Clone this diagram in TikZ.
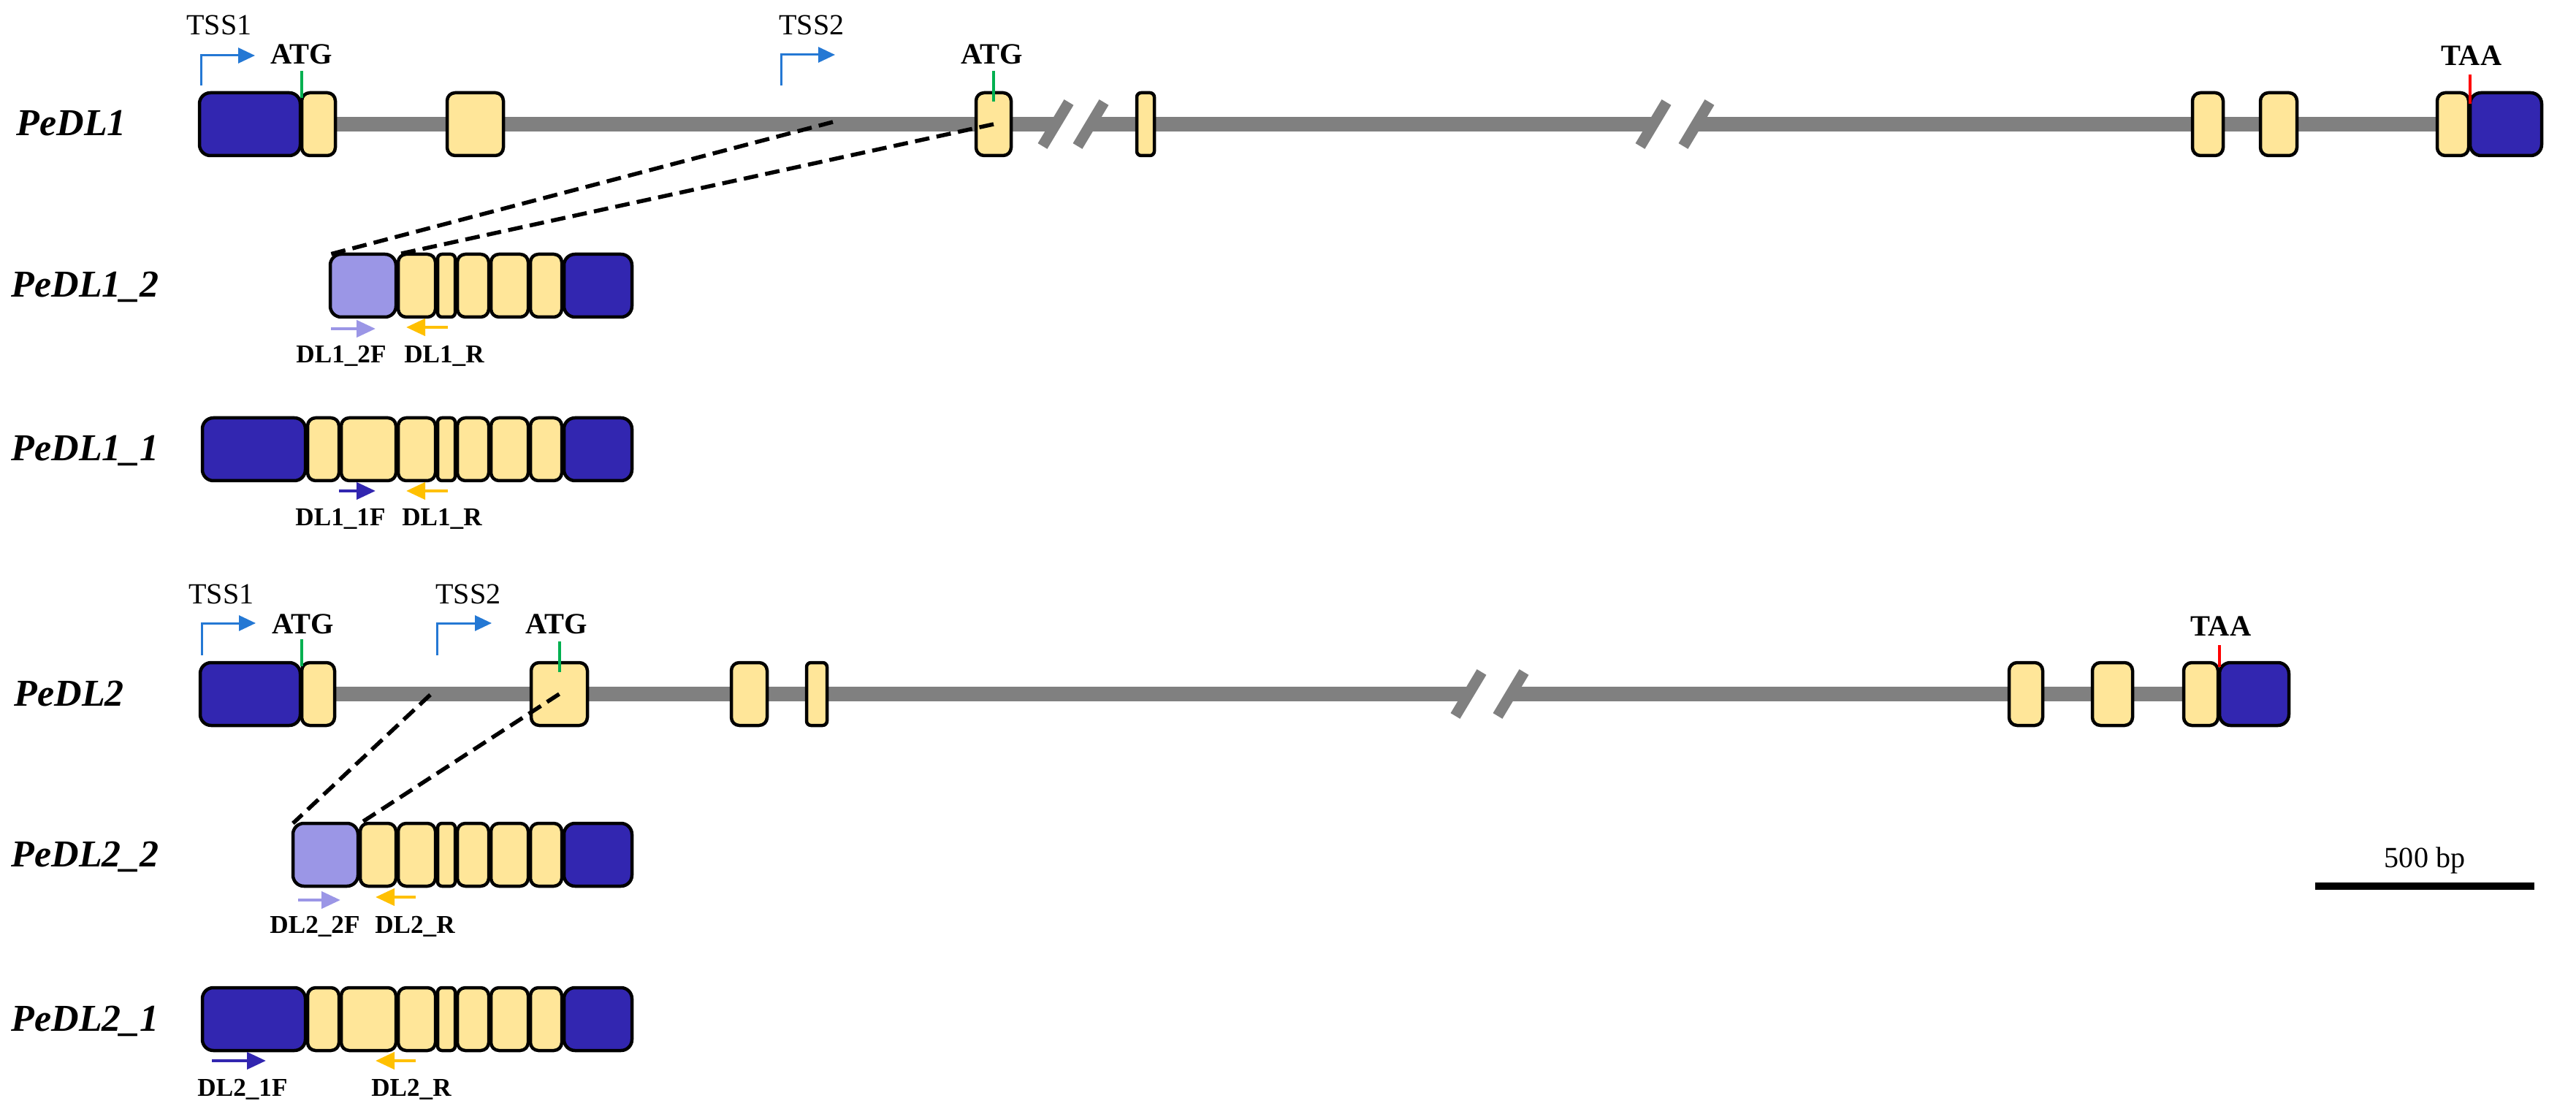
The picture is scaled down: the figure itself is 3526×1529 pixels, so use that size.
\documentclass[tikz,border=0pt]{standalone}
\usepackage{fontspec}
\setmainfont{Liberation Serif}
\usetikzlibrary{arrows.meta,positioning,calc,backgrounds}
\definecolor{Utr}{HTML}{3226B0}
\definecolor{Cds}{HTML}{FFE699}
\definecolor{Alt}{HTML}{9B96E6}
\definecolor{Intr}{HTML}{808080}
\definecolor{Tss}{HTML}{2478D4}
\definecolor{Start}{HTML}{00B050}
\definecolor{Stop}{HTML}{FF0000}
\definecolor{Rev}{HTML}{FFC000}
\tikzset{exon/.style={draw=black,line width=.45mm,rounded corners=1.1mm,minimum height=8.6mm,inner sep=0pt,outer sep=0pt},utr/.style={exon,fill=Utr,rounded corners=1.5mm},cds/.style={exon,fill=Cds},thin/.style={rounded corners=.6mm},altutr/.style={exon,fill=Alt,rounded corners=1.5mm},intron/.style={draw=Intr,line width=2mm},brk/.style={draw=Intr,line width=1.5mm},tss/.style={draw=Tss,line width=.3mm,-{Triangle[length=2.3mm,width=2.1mm]}},zoomline/.style={draw=black,line width=.55mm,dash pattern=on 2mm off 1mm},primer/.style={line width=.45mm,-{Triangle[length=2.6mm,width=2.3mm]}},gname/.style={font=\fontsize{14.8}{16}\selectfont\bfseries\itshape,anchor=base west,inner sep=0pt},tsslab/.style={font=\fontsize{11.4}{13}\selectfont,anchor=base,inner sep=0pt},codon/.style={font=\fontsize{11.5}{13}\selectfont\bfseries,anchor=base,inner sep=0pt},plab/.style={font=\fontsize{10}{12}\selectfont\bfseries,anchor=base,inner sep=0pt},codontick/.style={line width=.4mm}}

\begin{document}
\begin{tikzpicture}[x=0.1mm,y=-0.1mm]
\useasboundingbox (0,0) rectangle (3526,1529);
% PeDL1 gene
\node[gname] (n1) at (22,186) {PeDL1};
\node[utr,minimum width=13.8mm,anchor=west] (b1L) at (273,170) {};
\node[cds,minimum width=4.6mm,right=.2mm of b1L] (e1) {};
\node[cds,minimum width=7.7mm,anchor=west] (e2) at (612,170) {};
\node[cds,minimum width=4.8mm,anchor=west] (e3) at (1336,170) {};
\node[cds,thin,minimum width=2.4mm,anchor=west] (e4) at (1556,170) {};
\node[cds,minimum width=4.2mm,anchor=west] (e5) at (3001,170) {};
\node[cds,minimum width=5.0mm,anchor=west] (e6) at (3094,170) {};
\node[cds,minimum width=4.3mm,anchor=west] (e7) at (3336,170) {};
\node[utr,minimum width=9.8mm,right=.2mm of e7] (b1R) {};
\coordinate (k1a) at (1445,170);\coordinate (k1b) at (1493,170);
\coordinate (k2a) at (2263,170);\coordinate (k2b) at (2322,170);
\node[tsslab] (t1a) at (300,48) {TSS1};
\node[tsslab] (t1b) at (1111,48) {TSS2};
\coordinate (s1a) at (275,117);\coordinate (s1b) at (1069,117);
\draw[tss] (s1a) |- ++(74,-41);
\draw[tss] (s1b) |- ++(74,-42);
\node[codon] (c1a) at (413,88) {ATG};
\node[codon] (c1b) at (1358,88) {ATG};
\node[codon] (c1c) at (3383,90) {TAA};
\draw[codontick,Start] ($(e1.north west)+(0,-30)$) -- ($(e1.north west)+(0,7)$);
\draw[codontick,Start] ($(e3.north)+(0,-30)$) -- ($(e3.north)+(0,12)$);
\draw[codontick,Stop] ($(b1R.north west)+(0,-25)$) -- ($(b1R.north west)+(0,15)$);
% PeDL1_2
\node[gname] (n12) at (15,407) {PeDL1\_2};
\node[altutr,minimum width=9.0mm,anchor=west] (a12) at (452,391) {};
\node[cds,minimum width=5.1mm,right=.3mm of a12] (y12a) {};
\node[cds,thin,minimum width=2.4mm,right=.3mm of y12a] (y12b) {};
\node[cds,minimum width=4.3mm,right=.3mm of y12b] (y12c) {};
\node[cds,minimum width=5.1mm,right=.3mm of y12c] (y12d) {};
\node[cds,minimum width=4.3mm,right=.3mm of y12d] (y12e) {};
\node[utr,minimum width=9.3mm,right=.3mm of y12e] (u12) {};
\draw[primer,Alt] (453,450) -- (514,450);
\draw[primer,Rev] (613,448) -- (556,448);
\node[plab] (p12f) at (467,497) {DL1\_2F};
\node[plab] (p12r) at (608,497) {DL1\_R};
% PeDL1_1
\node[gname] (n11) at (15,631) {PeDL1\_1};
\node[utr,minimum width=14.1mm,anchor=west] (a11) at (277,615) {};
\node[cds,minimum width=4.3mm,right=.3mm of a11] (y11a) {};
\node[cds,minimum width=7.5mm,right=.3mm of y11a] (y11b) {};
\node[cds,minimum width=5.1mm,right=.3mm of y11b] (y11c) {};
\node[cds,thin,minimum width=2.4mm,right=.3mm of y11c] (y11d) {};
\node[cds,minimum width=4.3mm,right=.3mm of y11d] (y11e) {};
\node[cds,minimum width=5.1mm,right=.3mm of y11e] (y11f) {};
\node[cds,minimum width=4.3mm,right=.3mm of y11f] (y11g) {};
\node[utr,minimum width=9.3mm,right=.3mm of y11g] (u11) {};
\draw[primer,Utr] (464,672) -- (514,672);
\draw[primer,Rev] (613,672) -- (556,672);
\node[plab] (p11f) at (466,720) {DL1\_1F};
\node[plab] (p11r) at (605,720) {DL1\_R};
% PeDL2 gene
\node[gname] (n2) at (19,966) {PeDL2};
\node[utr,minimum width=13.7mm,anchor=west] (b2L) at (274,950) {};
\node[cds,minimum width=4.5mm,right=.2mm of b2L] (f1) {};
\node[cds,minimum width=7.7mm,anchor=west] (f2) at (727,950) {};
\node[cds,minimum width=4.9mm,anchor=west] (f3) at (1001,950) {};
\node[cds,thin,minimum width=2.8mm,anchor=west] (f4) at (1104,950) {};
\node[cds,minimum width=4.6mm,anchor=west] (f5) at (2750,950) {};
\node[cds,minimum width=5.5mm,anchor=west] (f6) at (2864,950) {};
\node[cds,minimum width=4.7mm,anchor=west] (f7) at (2989,950) {};
\node[utr,minimum width=9.5mm,right=.2mm of f7] (b2R) {};
\coordinate (k3a) at (2010,950);\coordinate (k3b) at (2068,950);
\node[tsslab] (t2a) at (303,826) {TSS1};
\node[tsslab] (t2b) at (641,826) {TSS2};
\coordinate (s2a) at (276,897);\coordinate (s2b) at (598,897);
\draw[tss] (s2a) |- ++(74,-44);
\draw[tss] (s2b) |- ++(75,-44);
\node[codon] (c2a) at (415,867) {ATG};
\node[codon] (c2b) at (762,867) {ATG};
\node[codon] (c2c) at (3040,870) {TAA};
\draw[codontick,Start] ($(f1.north west)+(0,-32)$) -- ($(f1.north west)+(0,5)$);
\draw[codontick,Start] ($(f2.north)+(0,-29)$) -- ($(f2.north)+(0,13)$);
\draw[codontick,Stop] ($(b2R.north west)+(0,-24)$) -- ($(b2R.north west)+(0,6)$);
% PeDL2_2
\node[gname] (n22) at (15,1186) {PeDL2\_2};
\node[altutr,minimum width=8.9mm,anchor=west] (a22) at (401,1170) {};
\node[cds,minimum width=4.9mm,right=.3mm of a22] (y22a) {};
\node[cds,minimum width=5.1mm,right=.3mm of y22a] (y22b) {};
\node[cds,thin,minimum width=2.4mm,right=.3mm of y22b] (y22c) {};
\node[cds,minimum width=4.3mm,right=.3mm of y22c] (y22d) {};
\node[cds,minimum width=5.1mm,right=.3mm of y22d] (y22e) {};
\node[cds,minimum width=4.3mm,right=.3mm of y22e] (y22f) {};
\node[utr,minimum width=9.3mm,right=.3mm of y22f] (u22) {};
\draw[primer,Alt] (408,1232) -- (466,1232);
\draw[primer,Rev] (569,1228) -- (514,1228);
\node[plab] (p22f) at (431,1277) {DL2\_2F};
\node[plab] (p22r) at (568,1277) {DL2\_R};
% PeDL2_1
\node[gname] (n21) at (15,1411) {PeDL2\_1};
\node[utr,minimum width=14.1mm,anchor=west] (a21) at (277,1395) {};
\node[cds,minimum width=4.3mm,right=.3mm of a21] (y21a) {};
\node[cds,minimum width=7.5mm,right=.3mm of y21a] (y21b) {};
\node[cds,minimum width=5.1mm,right=.3mm of y21b] (y21c) {};
\node[cds,thin,minimum width=2.4mm,right=.3mm of y21c] (y21d) {};
\node[cds,minimum width=4.3mm,right=.3mm of y21d] (y21e) {};
\node[cds,minimum width=5.1mm,right=.3mm of y21e] (y21f) {};
\node[cds,minimum width=4.3mm,right=.3mm of y21f] (y21g) {};
\node[utr,minimum width=9.3mm,right=.3mm of y21g] (u21) {};
\draw[primer,Utr] (290,1452) -- (364,1452);
\draw[primer,Rev] (569,1452) -- (514,1452);
\node[plab] (p21f) at (332,1500) {DL2\_1F};
\node[plab] (p21r) at (563,1500) {DL2\_R};
% introns and breaks
\begin{scope}[on background layer]
\draw[intron] (b1L.east) -- (k1a) (k1b) -- (k2a) (k2b) -- (b1R.west);
\draw[intron] (b2L.east) -- (k3a) (k3b) -- (b2R.west);
\end{scope}
\foreach \k in {k1a,k1b,k2a,k2b,k3a,k3b}
  \draw[brk] ($(\k)+(-18,30)$) -- ($(\k)+(18,-30)$);
% second TSS zoom
\coordinate (z1) at (1140,167);
\coordinate (z2) at (589,951);
\draw[zoomline] (z1) -- (a12.north west);
\draw[zoomline] (e3.center) -- (y12a.north west);
\draw[zoomline] (z2) -- (a22.north west);
\draw[zoomline] (f2.center) -- (y22a.north west);
% scale
\coordinate (sbL) at (3169,1213);\coordinate (sbR) at (3469,1213);
\draw[line width=1mm] (sbL) -- (sbR);
\node[tsslab] (sb) at (3319,1187) {500 bp};
\end{tikzpicture}
\end{document}
